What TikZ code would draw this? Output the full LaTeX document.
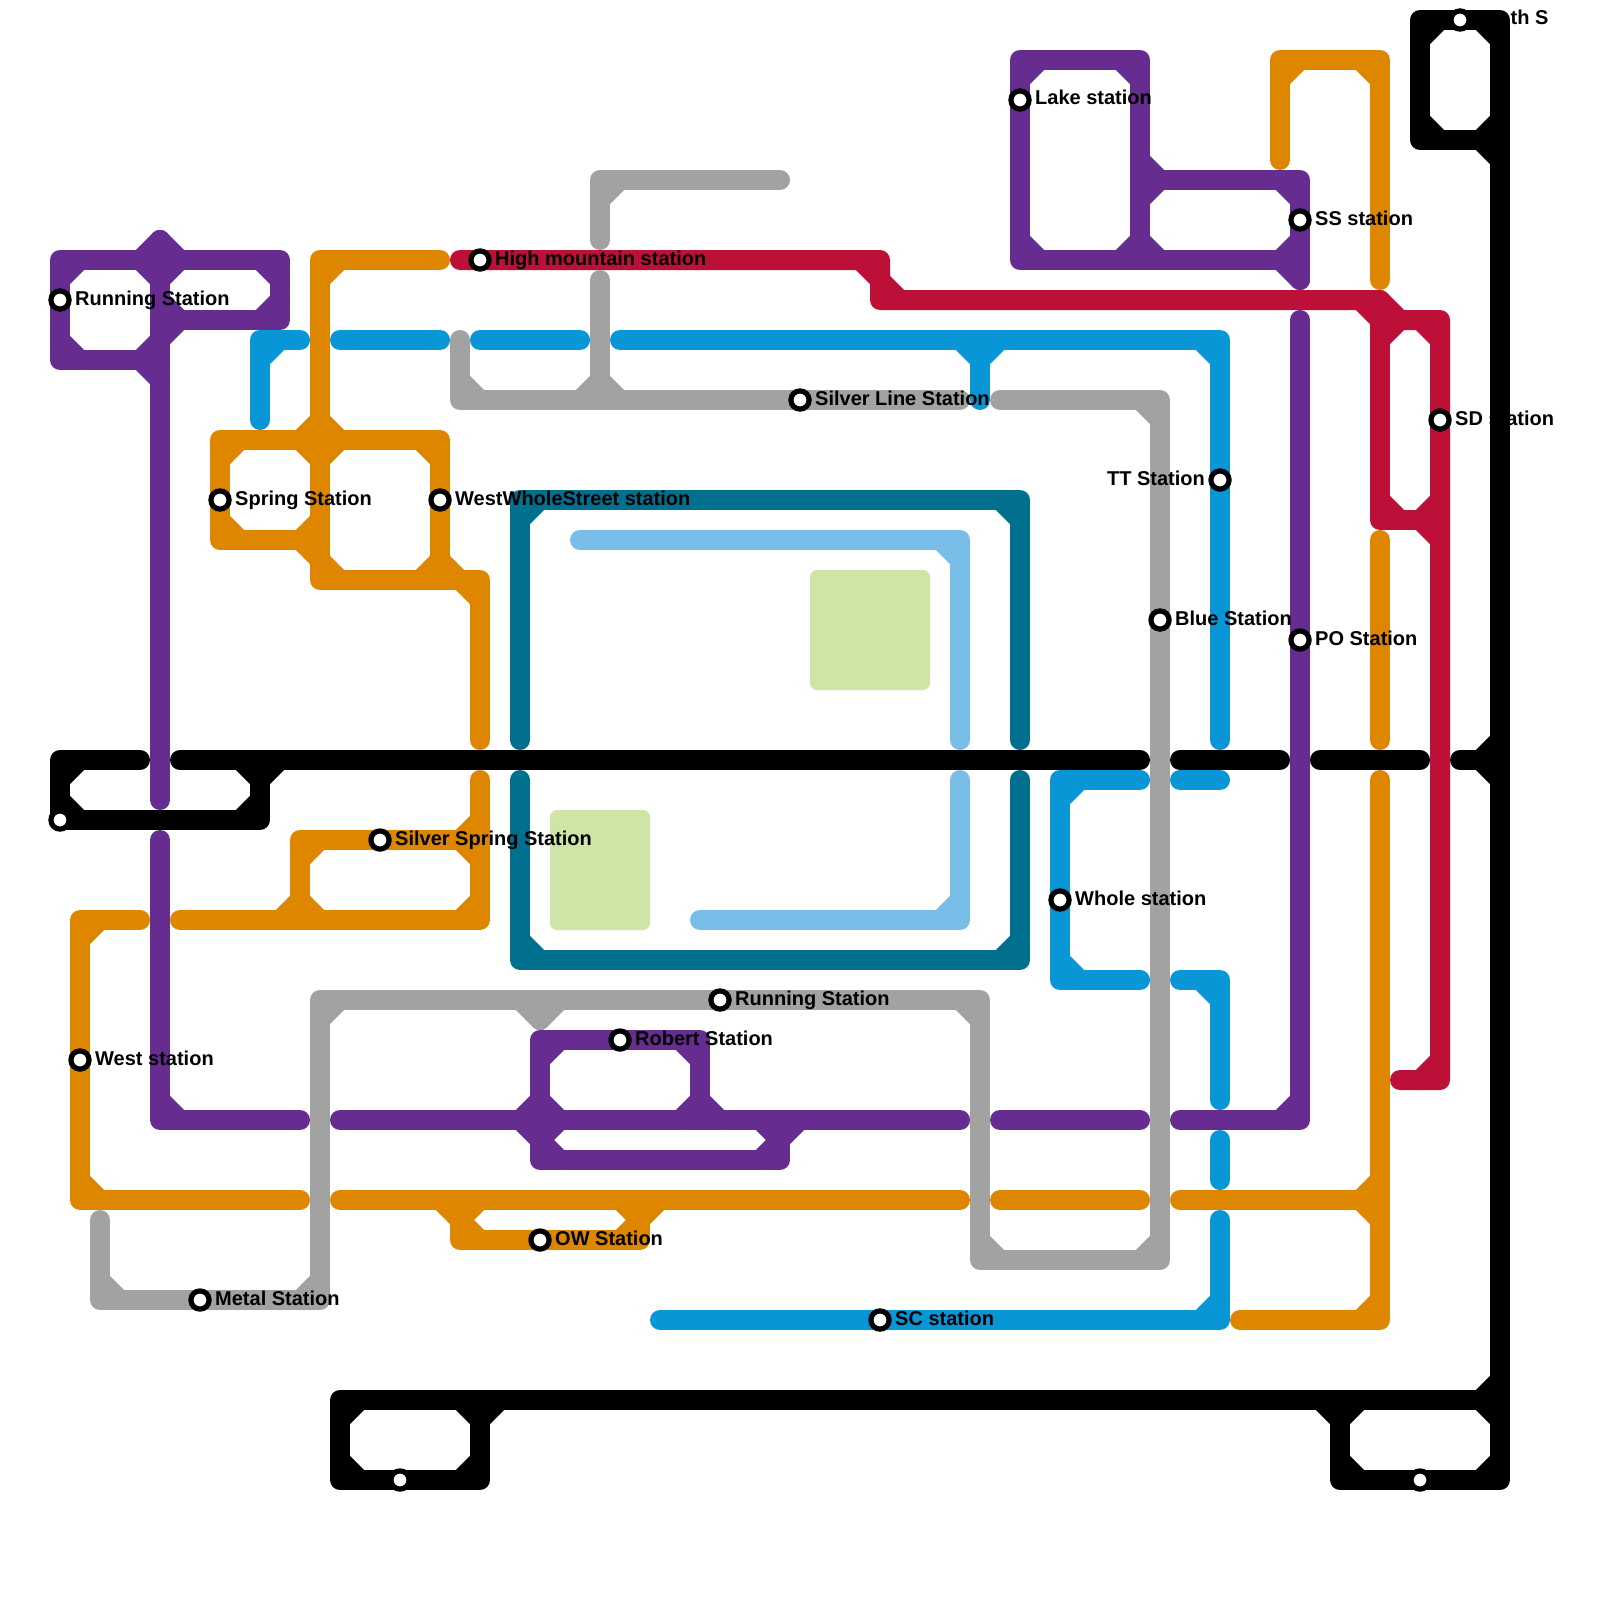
\documentclass[tikz,border=0pt]{standalone}
\usepackage{xcolor}
\usepackage{fontspec}
\setmainfont{Liberation Sans}
\usepackage{tikz}
\usetikzlibrary{positioning}

\definecolor{linepurple}{HTML}{662C90}
\definecolor{lineorange}{HTML}{DF8600}
\definecolor{linered}{HTML}{BD1038}
\definecolor{linegrey}{HTML}{A2A2A2}
\definecolor{lineblue}{HTML}{0896D7}
\definecolor{linesky}{HTML}{79BDE9}
\definecolor{lineteal}{HTML}{00708F}
\definecolor{parkgreen}{HTML}{CFE4A7}

\tikzset{
  metro/.style={line width=20pt, line cap=round, line join=round},
  purpleline/.style={metro, draw=linepurple},
  orangeline/.style={metro, draw=lineorange},
  redline/.style={metro, draw=linered},
  greyline/.style={metro, draw=linegrey},
  blueline/.style={metro, draw=lineblue},
  skyline/.style={metro, draw=linesky},
  tealline/.style={metro, draw=lineteal},
  blackline/.style={metro, draw=black},
  park/.style={fill=parkgreen, rounded corners=7pt},
  stn/.style={circle, draw=black, fill=white, line width=5.2pt, minimum size=18.2pt, inner sep=0pt},
  stnname/.style={inner sep=0pt, anchor=base west, text=black, font=\fontsize{20}{24}\selectfont\bfseries},
}

% inner corners: x/y of the corner, then the horizontal and the vertical arm
\newcommand{\bends}[2]{\foreach \x/\y/\p/\q in {#2} \draw[#1] (\x+\p,\y) -- (\x,\y+\q);}
\newcommand{\station}[4]{
  \node[stn] (#1) at (#2,#3) {};
  \node[stnname] (#1-name) at ([xshift=15pt,yshift=-5pt]#1.center) {#4};
}

\begin{document}
\begin{tikzpicture}[x=20pt, y=-20pt]
  \useasboundingbox (0,0) rectangle (80,80);

  \fill[park] (40.5,28.5) rectangle (46.5,34.5);
  \fill[park] (27.5,40.5) rectangle (32.5,46.5);

  % purple
  \draw[purpleline] (8,16) -- (14,16) -- (14,13) -- (3,13) -- (3,18) -- (8,18);
  \draw[purpleline] (8,12) -- (8,40);
  \draw[purpleline] (8,42) -- (8,56) -- (15,56);
  \draw[purpleline] (17,56) -- (48,56);
  \draw[purpleline] (27,56) -- (27,52) -- (35,52) -- (35,56);
  \draw[purpleline] (27,56) -- (27,58) -- (39,58) -- (39,56);
  \draw[purpleline] (50,56) -- (57,56);
  \draw[purpleline] (59,56) -- (65,56) -- (65,16);
  \draw[purpleline] (57,13) -- (57,3) -- (51,3) -- (51,13) -- (65,13);
  \draw[purpleline] (57,9) -- (65,9) -- (65,14);
  \bends{purpleline}{3/13/1/1, 3/18/1/-1, 8/18/-1/-1, 8/18/-1/1, 8/13/-1/1, 8/13/1/1, 8/13/-1/-1, 8/13/1/-1,
    8/16/1/-1, 8/16/1/1, 14/13/-1/1, 14/16/-1/-1, 8/56/1/-1, 27/52/1/1, 35/52/-1/1, 27/56/-1/-1, 27/56/1/-1,
    27/56/-1/1, 27/56/1/1, 35/56/-1/-1, 35/56/1/-1, 27/58/1/-1, 39/58/-1/-1, 39/56/-1/1, 39/56/1/1,
    65/56/-1/-1, 51/3/1/1, 57/3/-1/1, 51/13/1/-1, 57/13/-1/-1, 57/13/1/-1, 57/9/1/1, 57/9/1/-1,
    65/9/-1/1, 65/13/-1/-1, 65/13/-1/1}

  % orange
  \draw[orangeline] (22,13) -- (16,13) -- (16,29) -- (24,29) -- (24,37);
  \draw[orangeline] (16,27) -- (11,27) -- (11,22) -- (22,22) -- (22,29);
  \draw[orangeline] (9,46) -- (24,46) -- (24,39);
  \draw[orangeline] (15,46) -- (15,42) -- (24,42);
  \draw[orangeline] (7,46) -- (4,46) -- (4,60) -- (15,60);
  \draw[orangeline] (17,60) -- (48,60);
  \draw[orangeline] (23,60) -- (23,62) -- (32,62) -- (32,60);
  \draw[orangeline] (50,60) -- (57,60);
  \draw[orangeline] (59,60) -- (69,60);
  \draw[orangeline] (69,39) -- (69,66) -- (62,66);
  \draw[orangeline] (64,8) -- (64,3) -- (69,3) -- (69,14);
  \draw[orangeline] (69,27) -- (69,37);
  \bends{orangeline}{16/13/1/1, 16/22/-1/-1, 16/22/1/-1, 16/22/-1/1, 16/22/1/1, 11/22/1/1, 22/22/-1/1, 11/27/1/-1,
    16/27/-1/-1, 16/27/-1/1, 16/29/1/-1, 22/29/-1/-1, 22/29/1/-1, 24/29/-1/1, 15/42/1/1, 24/42/-1/-1, 24/42/-1/1,
    15/46/-1/-1, 15/46/1/-1, 24/46/-1/-1, 4/46/1/1, 4/60/1/-1, 23/60/-1/1, 23/60/1/1, 32/60/-1/1, 32/60/1/1,
    23/62/1/-1, 32/62/-1/-1, 69/60/-1/-1, 69/60/-1/1, 69/66/-1/-1, 64/3/1/1, 69/3/-1/1}

  % red
  \draw[redline] (23,13) -- (44,13) -- (44,15) -- (69,15) -- (70,16) -- (72,16) -- (72,54) -- (70,54);
  \draw[redline] (69,15) -- (69,26) -- (72,26);
  \bends{redline}{44/13/-1/1, 44/15/1/-1, 69/15/-1/1, 69/16/1/1, 72/16/-1/1, 69/26/1/-1, 72/26/-1/-1, 72/26/-1/1, 72/54/-1/-1}

  % grey
  \draw[greyline] (39,9) -- (30,9) -- (30,12);
  \draw[greyline] (30,14) -- (30,20);
  \draw[greyline] (23,17) -- (23,20) -- (48,20);
  \draw[greyline] (50,20) -- (58,20) -- (58,63) -- (49,63) -- (49,50) -- (16,50) -- (16,65) -- (5,65) -- (5,61);
  \draw[greyline] (27,50) -- (27,51);
  \bends{greyline}{30/9/1/1, 23/20/1/-1, 30/20/-1/-1, 30/20/1/-1, 58/20/-1/1, 58/63/-1/-1, 49/63/1/-1, 49/50/-1/1,
    16/50/1/1, 16/65/-1/-1, 5/65/1/-1, 27/50/-1/1, 27/50/1/1}

  % blue
  \draw[blueline] (13,21) -- (13,17) -- (15,17);
  \draw[blueline] (17,17) -- (22,17);
  \draw[blueline] (24,17) -- (29,17);
  \draw[blueline] (31,17) -- (61,17) -- (61,37);
  \draw[blueline] (49,17) -- (49,20);
  \draw[blueline] (57,39) -- (53,39) -- (53,49) -- (57,49);
  \draw[blueline] (59,39) -- (61,39);
  \draw[blueline] (59,49) -- (61,49) -- (61,55);
  \draw[blueline] (61,57) -- (61,59);
  \draw[blueline] (61,61) -- (61,66) -- (33,66);
  \bends{blueline}{13/17/1/1, 49/17/-1/1, 49/17/1/1, 61/17/-1/1, 53/39/1/1, 53/49/1/-1, 61/49/-1/1, 61/66/-1/-1}

  % light blue
  \draw[skyline] (29,27) -- (48,27) -- (48,37);
  \draw[skyline] (48,39) -- (48,46) -- (35,46);
  \bends{skyline}{48/27/-1/1, 48/46/-1/-1}

  % teal
  \draw[tealline] (26,37) -- (26,25) -- (51,25) -- (51,37);
  \draw[tealline] (26,39) -- (26,48) -- (51,48) -- (51,39);
  \bends{tealline}{26/25/1/1, 51/25/-1/1, 26/48/1/-1, 51/48/-1/-1}

  % black
  \draw[blackline] (7,38) -- (3,38) -- (3,41) -- (13,41) -- (13,38);
  \draw[blackline] (9,38) -- (57,38);
  \draw[blackline] (59,38) -- (64,38);
  \draw[blackline] (66,38) -- (71,38);
  \draw[blackline] (73,38) -- (75,38);
  \draw[blackline] (75,7) -- (71,7) -- (71,1) -- (75,1) -- (75,74) -- (67,74) -- (67,70);
  \draw[blackline] (75,70) -- (17,70) -- (17,74) -- (24,74) -- (24,70);
  \bends{blackline}{3/38/1/1, 3/41/1/-1, 13/41/-1/-1, 13/38/-1/1, 13/38/1/1, 75/38/-1/-1, 75/38/-1/1,
    71/1/1/1, 75/1/-1/1, 71/7/1/-1, 75/7/-1/-1, 75/7/-1/1, 75/70/-1/-1, 75/70/-1/1, 67/70/-1/1, 67/70/1/1,
    75/74/-1/-1, 67/74/1/-1, 17/70/1/1, 17/74/1/-1, 24/70/-1/1, 24/70/1/1, 24/74/-1/-1}

  % stations
  \station{runleft}{3}{15}{Running Station}
  \station{high}{24}{13}{High mountain station}
  \station{spring}{11}{25}{Spring Station}
  \station{westwhole}{22}{25}{WestWholeStreet station}
  \station{silverline}{40}{20}{Silver Line Station}
  \station{bluest}{58}{31}{Blue Station}
  \station{po}{65}{32}{PO Station}
  \station{ss}{65}{11}{SS station}
  \station{lake}{51}{5}{Lake station}
  \station{sd}{72}{21}{SD station}
  \station{silverspring}{19}{42}{Silver Spring Station}
  \station{west}{4}{53}{West station}
  \station{runmid}{36}{50}{Running Station}
  \station{robert}{31}{52}{Robert Station}
  \station{ow}{27}{62}{OW Station}
  \station{metal}{10}{65}{Metal Station}
  \station{sc}{44}{66}{SC station}
  \station{whole}{53}{45}{Whole station}
  \node[stn] (tt) at (61,24) {};
  \node[stnname, anchor=base east] (tt-name) at ([xshift=-15pt,yshift=-5pt]tt.center) {TT Station};
  \node[stn] (north) at (73,1) {};
  \node[stnname] (north-name) at ([xshift=50.5pt,yshift=-5pt]north.center) {th S};
  \node[stn] (blackleft) at (3,41) {};
  \node[stn] (blackmid) at (20,74) {};
  \node[stn] (blackright) at (71,74) {};
\end{tikzpicture}
\end{document}
